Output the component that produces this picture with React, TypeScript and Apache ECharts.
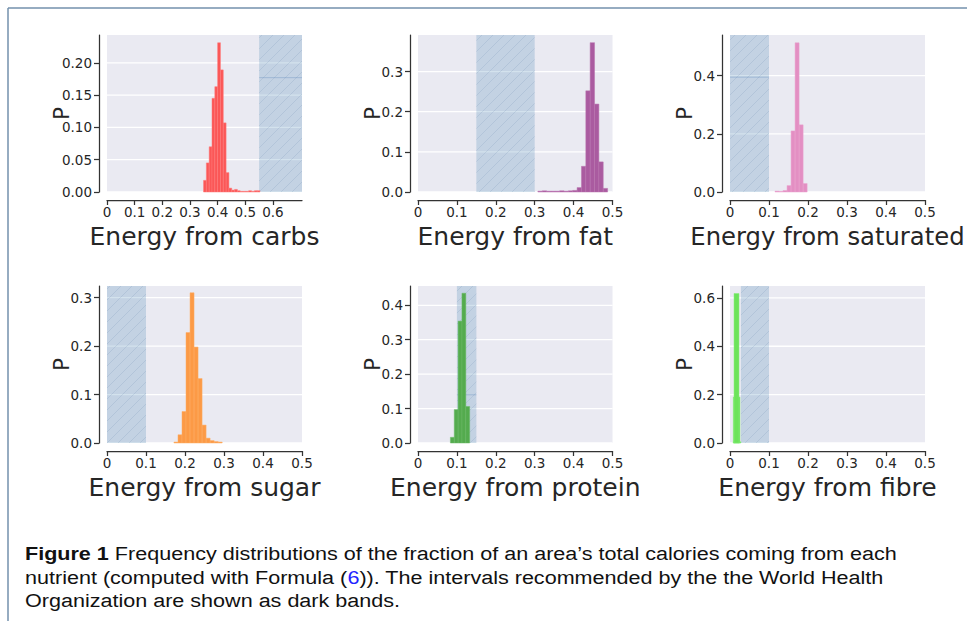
import React, { useEffect, useRef } from "react";
import * as echarts from "echarts";

// ---------- data ----------
const panelTitles = [
  "Energy from carbs",
  "Energy from fat",
  "Energy from saturated",
  "Energy from sugar",
  "Energy from protein",
  "Energy from fibre",
];

// histograms: bin start, bin width, probability per bin
const carbsStart = 0.349;
const carbsWidth = 0.0102;
const carbsP = [0.018, 0.045, 0.07, 0.145, 0.163, 0.231, 0.189, 0.107, 0.03, 0.006, 0.003, 0.004, 0.002, 0.001, 0.001, 0.001, 0.002, 0.001, 0.002, 0.002];

const fatStart = 0.3082;
const fatWidth = 0.0112;
const fatP = [0.002, 0.003, 0.002, 0.002, 0.002, 0.003, 0.002, 0.003, 0.004, 0.011, 0.064, 0.252, 0.372, 0.219, 0.075, 0.009];

const satStart = 0.1154;
const satWidth = 0.0103;
const satP = [0.003, 0.002, 0.005, 0.022, 0.21, 0.513, 0.231, 0.029];

const sugarStart = 0.1717;
const sugarWidth = 0.0103;
const sugarP = [0.002, 0.017, 0.065, 0.228, 0.31, 0.198, 0.133, 0.037, 0.01, 0.005, 0.003, 0.002];

const proteinStart = 0.0833;
const proteinWidth = 0.0099;
const proteinP = [0.0165, 0.097, 0.354, 0.435, 0.106];

// fibre bars overlap in the picture: explicit left / right edges
const fibreLeft = [0.0085, 0.0085, 0.0103];
const fibreRight = [0.028, 0.0256, 0.023];
const fibreP = [0.005, 0.19, 0.618];

// WHO recommended intervals
const bands = [
  [0.55, 0.75],
  [0.15, 0.3],
  [0.0, 0.1],
  [0.0, 0.1],
  [0.1, 0.15],
  [0.028, 0.1],
];
// thin hatch artefact line visible inside some bands (y value), null if none
const bandLineY = [0.177, null, 0.395, null, 0.14, null];

const xMax = [0.705, 0.5, 0.5, 0.5, 0.5, 0.5];
const yMax = [0.243, 0.391, 0.54, 0.324, 0.456, 0.649];
const xTicks6 = [0, 0.1, 0.2, 0.3, 0.4, 0.5, 0.6];
const xTicks5 = [0, 0.1, 0.2, 0.3, 0.4, 0.5];
const yTicksCarbs = [0, 0.05, 0.1, 0.15, 0.2];
const yTicksFat = [0, 0.1, 0.2, 0.3];
const yTicksSat = [0, 0.2, 0.4];
const yTicksSugar = [0, 0.1, 0.2, 0.3];
const yTicksProtein = [0, 0.1, 0.2, 0.3, 0.4];
const yTicksFibre = [0, 0.2, 0.4, 0.6];
const yDecimals = [2, 1, 1, 1, 1, 1];

const captionLines = [
  "{b|Figure 1} Frequency distributions of the fraction of an area’s total calories coming from each",
  "nutrient (computed with Formula ({l|6})). The intervals recommended by the the World Health",
  "Organization are shown as dark bands.",
];

// ---------- styling ----------
const barColors = ["#fb5757", "#aa5ba0", "#e38fc3", "#fc9a46", "#54ab4e", "#6ce35b"];
const barEdges = ["#ff7a7a", "#b873ae", "#eaa3cf", "#ffae66", "#6bbb66", "#86ec78"];
const titleSizes = [25, 25, 24.3, 25, 25, 25];
const FONT = "DejaVu Sans";
const TEXT = "#262626";
const AXIS = "#333333";

const gridLefts = [107, 418, 730];
const gridWidths = [195, 194.5, 195];
const gridTops = [35, 286];
const gridHeight = 157;

function makeBins(start: number, width: number, p: number[]) {
  return p.map((v, i) => [start + i * width, start + (i + 1) * width, v]);
}

const histData = [
  makeBins(carbsStart, carbsWidth, carbsP),
  makeBins(fatStart, fatWidth, fatP),
  makeBins(satStart, satWidth, satP),
  makeBins(sugarStart, sugarWidth, sugarP),
  makeBins(proteinStart, proteinWidth, proteinP),
  fibreP.map((v, i) => [fibreLeft[i], fibreRight[i], v]),
];
const xTicksAll = [xTicks6, xTicks5, xTicks5, xTicks5, xTicks5, xTicks5];
const yTicksAll = [yTicksCarbs, yTicksFat, yTicksSat, yTicksSugar, yTicksProtein, yTicksFibre];

function buildOption() {
  const grid: any[] = [];
  const xAxis: any[] = [];
  const yAxis: any[] = [];
  const series: any[] = [];

  for (let i = 0; i < 6; i++) {
    const row = Math.floor(i / 3);
    const col = i % 3;
    grid.push({
      left: gridLefts[col],
      top: gridTops[row],
      width: gridWidths[col],
      height: gridHeight,
      show: true,
      backgroundColor: "#eaeaf2",
      borderWidth: 0,
      containLabel: false,
      outerBoundsMode: "none",
    });
    const xt = xTicksAll[i];
    const yt = yTicksAll[i];
    const dec = yDecimals[i];
    xAxis.push({
      type: "value",
      gridIndex: i,
      min: 0,
      max: xMax[i],
      offset: 8,
      axisLine: { show: true, onZero: false, lineStyle: { color: AXIS, width: 1.25 } },
      axisTick: { show: true, length: 5, customValues: xt, lineStyle: { color: AXIS, width: 1.25 } },
      axisLabel: {
        customValues: xt,
        formatter: (v: number) => (v === 0 ? "0" : v.toFixed(1)),
        color: TEXT,
        fontFamily: FONT,
        fontSize: 13.5,
        margin: 5,
      },
      splitLine: { show: false },
      name: panelTitles[i],
      nameLocation: "middle",
      nameGap: 24,
      nameMoveOverlap: false,
      nameTextStyle: { fontFamily: FONT, fontSize: titleSizes[i], color: TEXT },
    });
    yAxis.push({
      type: "value",
      gridIndex: i,
      min: 0,
      max: yMax[i],
      offset: 8,
      axisLine: { show: true, onZero: false, lineStyle: { color: AXIS, width: 1.25 } },
      axisTick: { show: true, length: 5, customValues: yt, lineStyle: { color: AXIS, width: 1.25 } },
      axisLabel: {
        customValues: yt,
        formatter: (v: number) => v.toFixed(dec),
        color: TEXT,
        fontFamily: FONT,
        fontSize: 13.5,
        margin: 7,
      },
      splitLine: { show: false },
      name: "P",
      nameLocation: "middle",
      nameGap: 27,
      nameMoveOverlap: false,
      nameTextStyle: { fontFamily: FONT, fontSize: 21, color: TEXT },
    });

    const lineY = bandLineY[i];
    // background: grid lines + WHO band with hatching
    series.push({
      type: "custom",
      xAxisIndex: i,
      yAxisIndex: i,
      silent: true,
      clip: false,
      z: 1,
      data: [[bands[i][0], bands[i][1]]],
      renderItem: (params: any, api: any) => {
        const cs = params.coordSys;
        const children: any[] = [];
        yt.forEach((t) => {
          const p = api.coord([0, t]);
          children.push({
            type: "line",
            shape: { x1: cs.x, y1: p[1], x2: cs.x + cs.width, y2: p[1] },
            style: { stroke: "#ffffff", lineWidth: 1.3 },
          });
        });
        const xa = Math.max(cs.x, api.coord([api.value(0), 0])[0]);
        const xb = Math.min(cs.x + cs.width, api.coord([api.value(1), 0])[0]);
        const top = cs.y;
        const bot = cs.y + cs.height;
        children.push({
          type: "rect",
          shape: { x: xa, y: top, width: xb - xa, height: bot - top },
          style: { fill: "rgba(70,130,180,0.235)" },
        });
        const s = 11;
        for (let c = Math.ceil((xa + top) / s) * s; c <= xb + bot; c += s) {
          const p1 = Math.max(xa, c - bot);
          const p2 = Math.min(xb, c - top);
          if (p2 > p1) {
            children.push({
              type: "line",
              shape: { x1: p1, y1: c - p1, x2: p2, y2: c - p2 },
              style: { stroke: "rgba(60,100,150,0.12)", lineWidth: 1 },
            });
          }
        }
        if (lineY !== null) {
          const ly = api.coord([0, lineY])[1];
          children.push({
            type: "line",
            shape: { x1: xa, y1: ly, x2: xb, y2: ly },
            style: { stroke: "rgba(70,120,175,0.28)", lineWidth: 1 },
          });
        }
        return { type: "group", children };
      },
    });
    // histogram
    series.push({
      type: "custom",
      xAxisIndex: i,
      yAxisIndex: i,
      silent: true,
      z: 3,
      data: histData[i],
      encode: { x: [0, 1], y: 2 },
      renderItem: (params: any, api: any) => {
        const p0 = api.coord([api.value(0), api.value(2)]);
        const p1 = api.coord([api.value(1), 0]);
        return {
          type: "rect",
          shape: { x: p0[0], y: p0[1], width: p1[0] - p0[0], height: p1[1] - p0[1] },
          style: { fill: barColors[i], stroke: barEdges[i], lineWidth: 0.5 },
        };
      },
    });
  }

  const capFont = "Liberation Sans";
  const capSize = 19;
  const graphic: any[] = [
    { type: "line", shape: { x1: 8, y1: 8, x2: 967, y2: 8 }, style: { stroke: "#7390ad", lineWidth: 1.5 } },
    { type: "line", shape: { x1: 8, y1: 8, x2: 8, y2: 621 }, style: { stroke: "#7390ad", lineWidth: 1.5 } },
  ];
  const capY = [553, 577, 600];
  captionLines.forEach((t, k) => {
    graphic.push({
      type: "text",
      x: 25,
      y: capY[k],
      scaleX: 1.135,
      style: {
        text: t,
        fill: "#111",
        fontFamily: capFont,
        fontSize: capSize,
        verticalAlign: "middle",
        textAlign: "left",
        rich: {
          b: { fontFamily: capFont, fontSize: capSize, fontWeight: "bold", fill: "#111" },
          l: { fontFamily: capFont, fontSize: capSize, fill: "#2222ff" },
        },
      },
    });
  });

  return {
    animation: false,
    backgroundColor: "#ffffff",
    textStyle: { fontFamily: FONT },
    grid,
    xAxis,
    yAxis,
    series,
    graphic,
  };
}

export default function App() {
  const ref = useRef<HTMLDivElement>(null);
  useEffect(() => {
    if (!ref.current) return;
    const chart = echarts.init(ref.current, null, { renderer: "svg" });
    chart.setOption(buildOption() as any);
    return () => chart.dispose();
  }, []);
  return (
    <div
      ref={ref}
      style={{ position: "absolute", left: 0, top: 0, width: 967, height: 621 }}
    />
  );
}
